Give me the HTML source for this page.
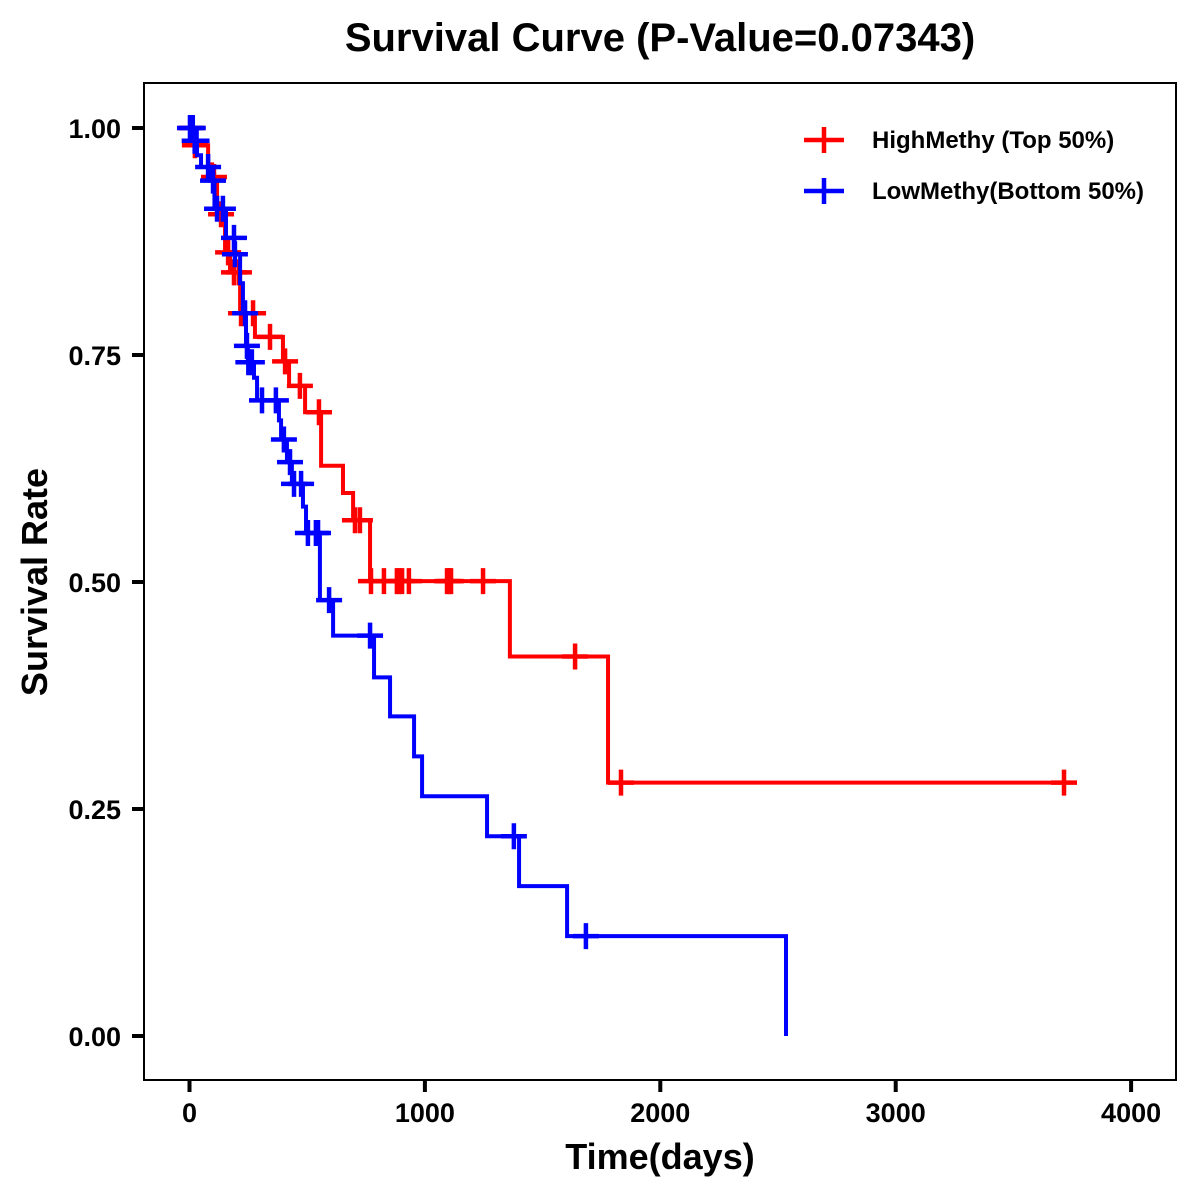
<!DOCTYPE html>
<html lang="en">
<head>
<meta charset="utf-8">
<title>Survival Curve</title>
<style>
  html, body { margin: 0; padding: 0; background: #fff; }
  svg { display: block; }
  text { font-family: "Liberation Sans", Arial, sans-serif; font-weight: bold; fill: #000; }
</style>
</head>
<body>
<svg id="chart" xmlns="http://www.w3.org/2000/svg" width="1200" height="1200" viewBox="0 0 1200 1200">
  <rect x="0" y="0" width="1200" height="1200" fill="#fff"/>
  <text x="660" y="51" font-size="40" text-anchor="middle">Survival Curve (P-Value=0.07343)</text>
  <rect x="144" y="83" width="1032" height="997" fill="none" stroke="#000" stroke-width="2"/>
  <g id="x-axis"></g>
  <g id="y-axis"></g>
  <text x="660" y="1169" font-size="36" text-anchor="middle">Time(days)</text>
  <text x="47" y="582" font-size="36" text-anchor="middle" transform="rotate(-90 47 582)">Survival Rate</text>
  <g id="series"></g>
  <g>
    <g>
      <path d="M804 140H844M824 127V153" fill="none" stroke="#ff0000" stroke-width="4.5"/>
      <text x="872" y="148" font-size="24">HighMethy (Top 50%)</text>
    </g>
    <g>
      <path d="M804 191H844M824 178V204" fill="none" stroke="#0000ff" stroke-width="4.5"/>
      <text x="872" y="199" font-size="24">LowMethy(Bottom 50%)</text>
    </g>
  </g>
</svg>
<script>
const xTicks = [0, 1000, 2000, 3000, 4000];
const yTicks = [0, 0.25, 0.5, 0.75, 1];
const yTickLabels = ['0.00', '0.25', '0.50', '0.75', '1.00'];

const highTimes = [0, 14, 79, 96, 117, 151, 172, 215, 278, 397, 423, 491, 559, 652, 695, 767, 1361, 1778, 3715];
const highSurvival = [1, 0.981, 0.960, 0.946, 0.905, 0.863, 0.841, 0.796, 0.770, 0.743, 0.716, 0.687, 0.628, 0.598, 0.568, 0.501, 0.418, 0.279, 0.279];
const highCensored = [5, 11, 23, 104, 134, 164, 189, 210, 219, 270, 342, 406, 469, 550, 703, 724, 771, 826, 881, 890, 903, 932, 1094, 1102, 1111, 1247, 1638, 1833, 3715];

const lowTimes = [0, 18, 32, 49, 87, 106, 155, 191, 215, 227, 240, 248, 274, 287, 380, 389, 414, 435, 482, 495, 554, 610, 784, 852, 954, 988, 1264, 1400, 1604, 2534];
const lowSurvival = [1, 0.986, 0.970, 0.957, 0.942, 0.911, 0.879, 0.861, 0.829, 0.796, 0.760, 0.742, 0.725, 0.700, 0.678, 0.657, 0.632, 0.608, 0.583, 0.554, 0.480, 0.441, 0.395, 0.352, 0.308, 0.264, 0.220, 0.165, 0.110, 0];
const lowCensored = [2, 14, 22, 30, 79, 100, 117, 142, 189, 193, 236, 244, 250, 265, 308, 367, 401, 427, 444, 474, 503, 537, 546, 593, 767, 1378, 1684];

const svgNS = 'http://www.w3.org/2000/svg';
const xScale = t => 189.5 + t * 0.2354;
const yScale = s => 1036 - s * 908;
const CROSS_HALF = 13;

function make(tag, attrs, parent) {
  const el = document.createElementNS(svgNS, tag);
  for (const k in attrs) el.setAttribute(k, attrs[k]);
  parent.appendChild(el);
  return el;
}

const xAxis = document.getElementById('x-axis');
xTicks.forEach(function (v) {
  const tick = make('line', { x1: xScale(v), x2: xScale(v), y1: 1080, y2: 1092, stroke: '#000', 'stroke-width': 4 }, xAxis);
  
  
  const label = make('text', { x: xScale(v), y: 1122, 'font-size': 27, 'text-anchor': 'middle' }, xAxis);
  
  
  label.textContent = String(v);
});

const yAxis = document.getElementById('y-axis');
yTicks.forEach(function (v, i) {
  const tick = make('line', { x1: 132, x2: 144, y1: yScale(v), y2: yScale(v), stroke: '#000', 'stroke-width': 4 }, yAxis);
  
  
  const label = make('text', { x: 121, y: yScale(v) + 10, 'font-size': 27, 'text-anchor': 'end' }, yAxis);
  
  
  label.textContent = yTickLabels[i];
});

function survivalAt(times, survival, t) {
  let s = survival[0];
  for (let i = 0; i < times.length; i++) {
    if (times[i] <= t) s = survival[i];
  }
  return s;
}

function drawSeries(name, color, times, survival, censored) {
  const root = document.getElementById('series');
  const group = make('g', {}, root);
  
  
  let d = 'M' + xScale(times[0]) + ' ' + yScale(survival[0]);
  for (let i = 1; i < times.length; i++) {
    d += 'H' + xScale(times[i]) + 'V' + yScale(survival[i]);
  }
  const line = make('path', { d: d, fill: 'none', stroke: color, 'stroke-width': 4, 'stroke-linejoin': 'miter' }, group);
  
  
  censored.forEach(function (t) {
    const cx = xScale(t);
    const cy = yScale(survivalAt(times, survival, t));
    const mark = make('path', {
      d: 'M' + (cx - CROSS_HALF) + ' ' + cy + 'H' + (cx + CROSS_HALF) + 'M' + cx + ' ' + (cy - CROSS_HALF) + 'V' + (cy + CROSS_HALF),
      fill: 'none', stroke: color, 'stroke-width': 4.5
    }, group);
    
    
  });
}

drawSeries('high-methy', '#ff0000', highTimes, highSurvival, highCensored);
drawSeries('low-methy', '#0000ff', lowTimes, lowSurvival, lowCensored);
</script>
</body>
</html>
